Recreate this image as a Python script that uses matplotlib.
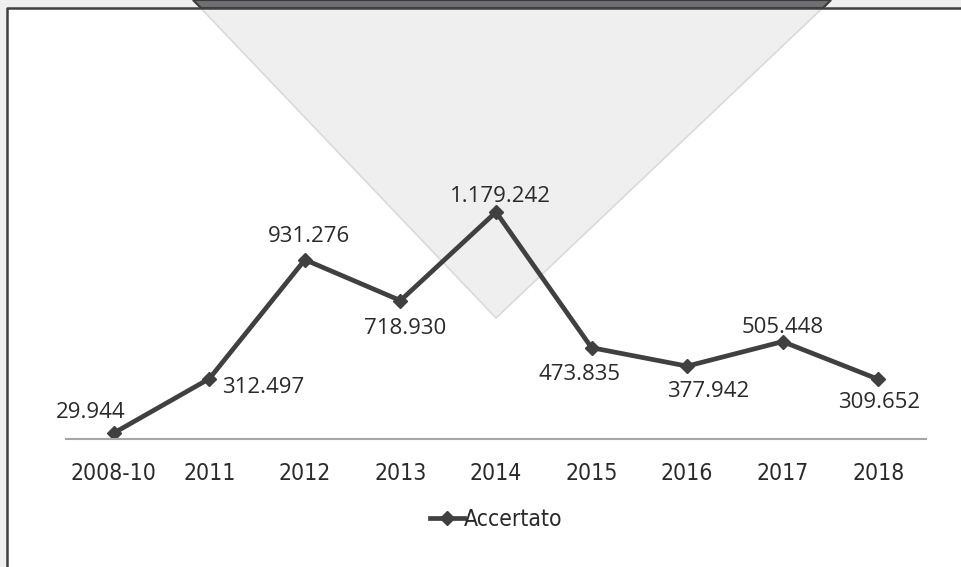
import matplotlib.pyplot as plt
from matplotlib.patches import Polygon, Rectangle
from matplotlib import font_manager

# data
years = ['2008-10', '2011', '2012', '2013', '2014', '2015', '2016', '2017', '2018']
accertato = [29944, 312497, 931276, 718930, 1179242, 473835, 377942, 505448, 309652]
value_labels = ['29.944', '312.497', '931.276', '718.930', '1.179.242',
                '473.835', '377.942', '505.448', '309.652']
# label offsets (points) relative to each marker
offsets = [(-16.5, 15), (39, -6), (3, 17), (3.5, -20), (3, 11),
           (-8.5, -19.5), (15, -18), (0, 10), (1, -17)]

names = {f.name for f in font_manager.fontManager.ttflist}
label_font = 'Open Sans' if 'Open Sans' in names else 'DejaVu Sans'

W, H = 962, 567
fig = plt.figure(figsize=(W / 100, H / 100), dpi=100)
fig.patch.set_facecolor('#efefef')

# background decoration in pixel coordinates
bg = fig.add_axes([0, 0, 1, 1])
bg.set_xlim(0, W)
bg.set_ylim(H, 0)
bg.axis('off')
bg.add_patch(Rectangle((7, 8), W, H, facecolor='white', edgecolor='none'))
bg.add_patch(Polygon([(193, 0), (831, 0), (496, 318)], closed=True,
                     facecolor='#efefef', edgecolor='#dadada', lw=1.2))
bg.add_patch(Polygon([(193, 0), (831, 0), (823, 8), (201, 8)], closed=True,
                     facecolor='#707074', edgecolor='#3a3a3a', lw=1.5))
bg.plot([7, 7, W], [H, 8, 8], color='#404040', lw=1.8, solid_capstyle='butt')

# main chart
ax = fig.add_axes([66 / W, 1 - 438.8 / H, 860 / W, (438.8 - 169.6) / H])
ax.patch.set_alpha(0)
x = list(range(len(years)))
line, = ax.plot(x, accertato, color='#404040', lw=3.4, marker='D',
                markersize=7, label='Accertato')
ax.set_xlim(-0.5, len(years) - 0.5)
ax.set_ylim(0, 1400000)

for xi, yi, txt, (dx, dy) in zip(x, accertato, value_labels, offsets):
    ax.annotate(txt, (xi, yi), xytext=(dx, dy), textcoords='offset points',
                ha='center', va='center', fontsize=16, color='#2a2a2a',
                family=label_font)

for s in ['top', 'right', 'left']:
    ax.spines[s].set_visible(False)
ax.spines['bottom'].set_color('#a6a6a6')
ax.spines['bottom'].set_linewidth(1.5)
ax.set_yticks([])
ax.set_xticks(x)
ax.set_xticklabels(years, family='DejaVu Sans', stretch='condensed',
                   fontsize=16.5, color='#2a2a2a')
ax.tick_params(axis='x', length=0, pad=17)

leg = ax.legend(loc='upper center', bbox_to_anchor=(0.5, -0.182), frameon=False,
                prop={'family': 'DejaVu Sans', 'stretch': 'condensed', 'size': 16.5},
                handlelength=1.5, handletextpad=0.0)
for t in leg.get_texts():
    t.set_color('#2a2a2a')

fig.savefig('out.png', dpi=100)
